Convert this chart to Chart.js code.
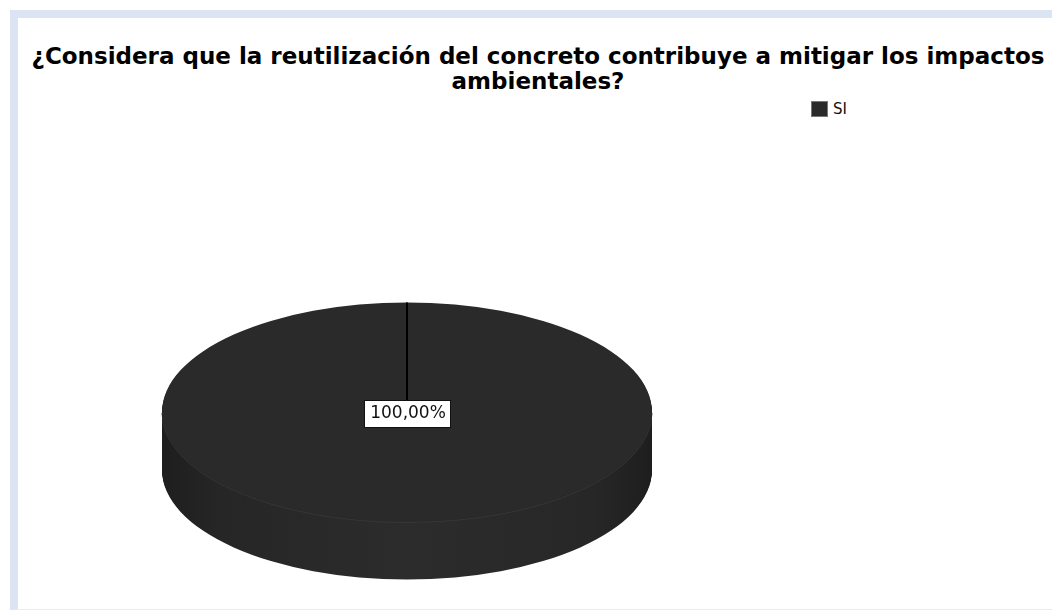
<!DOCTYPE html>
<html>
<head>
<meta charset="utf-8">
<script src="https://cdn.jsdelivr.net/npm/chart.js@4/dist/chart.umd.min.js"></script>
<style>
  html, body { margin: 0; padding: 0; background: #fff; }
  body { width: 1052px; height: 610px; position: relative; overflow: hidden; }
  #marco {
    position: absolute; left: 10px; top: 10px; width: 1034px; height: 591px;
    border-left: 8px solid #dbe4f3; border-top: 8px solid #dbe4f3; border-bottom: 1px solid #ececec;
  }
  #titulo {
    position: absolute; left: 21px; top: 44px; width: 1034px; text-align: center;
    font: bold 23px "DejaVu Sans", sans-serif; line-height: 25px; color: #000; white-space: nowrap;
  }
  #leyenda { position: absolute; left: 811px; top: 100px; font: 15px "DejaVu Sans", sans-serif; color: #111; }
  #leyenda .item { display: flex; align-items: center; height: 17px; }
  #leyenda .caja { width: 15px; height: 14px; border: 1px solid #777; margin-right: 5px; }
  #grafico { position: absolute; left: 18px; top: 18px; }
</style>
</head>
<body>
<div id="marco"></div>
<div id="titulo">¿Considera que la reutilización del concreto contribuye a mitigar los impactos<br>ambientales?</div>
<div id="leyenda"></div>
<canvas id="grafico" width="1034" height="592"></canvas>
<script>
// respuestas y porcentajes
const categorias = ['SI']
const porcentajes = [100]
const colores = ['#2a2a2a']

// pastel en perspectiva: paredes laterales y luego la cara superior achatada
const pastel3d = {
    id: 'pastel3d',
    beforeDatasetsDraw(chart, args, opts){
        const ctx = chart.ctx
        const meta = chart.getDatasetMeta(0)
        const a0 = meta.data[0]
        const cx = a0.x, cy = a0.y, r = a0.outerRadius
        const grad = ctx.createLinearGradient(cx - r, 0, cx + r, 0)
        grad.addColorStop(0, '#1e1e1e')
        grad.addColorStop(0.12, '#262626')
        grad.addColorStop(0.5, '#2c2c2c')
        grad.addColorStop(0.88, '#272727')
        grad.addColorStop(1, '#1e1e1e')
        for(let d = opts.profundidad; d > 0; d--){
            ctx.save()
            ctx.translate(0, cy + d)
            ctx.scale(1, opts.inclinacion)
            ctx.translate(0, -cy)
            meta.data.forEach(a=>{
                ctx.beginPath()
                ctx.moveTo(a.x, a.y)
                ctx.arc(a.x, a.y, a.outerRadius, a.startAngle, a.endAngle)
                ctx.closePath()
                ctx.fillStyle = grad
                ctx.fill()
            })
            ctx.restore()
        }
        // borde claro entre tapa y pared
        ctx.save()
        ctx.translate(0, cy + 1)
        ctx.scale(1, opts.inclinacion)
        ctx.translate(0, -cy)
        ctx.beginPath()
        ctx.arc(cx, cy, r, 0, Math.PI)
        ctx.restore()
        ctx.strokeStyle = '#363636'
        ctx.lineWidth = 1
        ctx.stroke()

        ctx.save()
        ctx.translate(0, cy)
        ctx.scale(1, opts.inclinacion)
        ctx.translate(0, -cy)
    },
    afterDatasetsDraw(chart, args, opts){
        const ctx = chart.ctx
        ctx.restore()
        const meta = chart.getDatasetMeta(0)
        const datos = chart.data.datasets[0].data
        const total = datos.reduce((s,v)=>s+v,0)
        const k = opts.inclinacion
        meta.data.forEach((a,i)=>{
            // linea del borde del sector
            ctx.beginPath()
            ctx.moveTo(a.x, a.y)
            ctx.lineTo(a.x + Math.cos(a.startAngle)*a.outerRadius, a.y + Math.sin(a.startAngle)*a.outerRadius*k)
            ctx.strokeStyle = '#000'
            ctx.lineWidth = 2
            ctx.stroke()
        })
        ctx.font = '17px "DejaVu Sans", sans-serif'
        ctx.textAlign = 'center'
        ctx.textBaseline = 'middle'
        meta.data.forEach((a,i)=>{
            let px = a.x, py = a.y
            if(a.endAngle - a.startAngle < Math.PI*2 - 0.001){
                const c = a.getCenterPoint()
                px = c.x
                py = a.y + (c.y - a.y)*k
            }
            const txt = (datos[i]/total*100).toFixed(2).replace('.', ',') + '%'
            const w = ctx.measureText(txt).width + 10
            const h = 27
            ctx.fillStyle = '#fff'
            ctx.fillRect(Math.round(px - w/2) + 0.5, Math.round(py - h/2) + 1.5, Math.round(w), h)
            ctx.strokeStyle = '#111'
            ctx.lineWidth = 1
            ctx.strokeRect(Math.round(px - w/2) + 0.5, Math.round(py - h/2) + 1.5, Math.round(w), h)
            ctx.fillStyle = '#111'
            ctx.fillText(txt, px + 1, py + 2)
        })
    }
}

const canvas = document.getElementById('grafico')
const chart = new Chart(canvas.getContext('2d'),{
    type: 'pie',
    data: {
        labels: categorias,
        datasets: [{
            data: porcentajes,
            backgroundColor: colores,
            borderWidth: 0,
            radius: 245
        }]
    },
    options: {
        responsive: false,
        animation: false,
        layout: { padding: { left: 0, right: 256, top: 196, bottom: 0 } },
        plugins: {
            legend: { display: false },
            tooltip: { enabled: false },
            pastel3d: { profundidad: 58, inclinacion: 0.447 }
        }
    },
    plugins: [pastel3d]
})

// leyenda a partir de las categorias
const leyenda = document.getElementById('leyenda')
categorias.forEach((c,i)=>{
    const item = document.createElement('div')
    item.className = 'item'
    const caja = document.createElement('span')
    caja.className = 'caja'
    caja.style.background = colores[i]
    const txt = document.createElement('span')
    txt.textContent = c
    item.appendChild(caja)
    item.appendChild(txt)
    leyenda.appendChild(item)
})
</script>
</body>
</html>
